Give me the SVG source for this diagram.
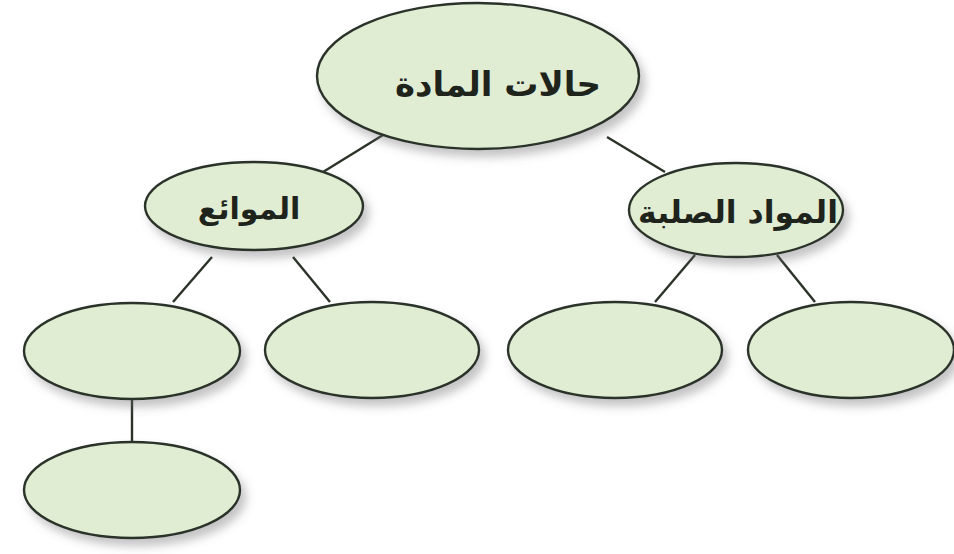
<svg xmlns="http://www.w3.org/2000/svg" width="954" height="554" viewBox="0 0 954 554">
<defs>
<filter id="sh" x="-20%" y="-20%" width="150%" height="160%">
<feDropShadow dx="5" dy="7" stdDeviation="5" flood-color="#6a6a70" flood-opacity="0.4"/>
</filter>
<style>
.n{fill:#e0edd2;stroke:#2b3329;stroke-width:2.4;filter:url(#sh)}
.c{stroke:#2b3329;stroke-width:2.4;fill:none}
.t{font-family:"DejaVu Sans",sans-serif;font-weight:bold;fill:#1e231c;text-anchor:middle;dominant-baseline:central}
</style>
</defs>
<rect width="954" height="554" fill="#ffffff"/>
<g id="connectors">
<line class="c" x1="383" y1="135" x2="323" y2="172"/>
<line class="c" x1="607" y1="137" x2="665" y2="172"/>
<line class="c" x1="212" y1="257" x2="173" y2="302"/>
<line class="c" x1="293" y1="257" x2="330" y2="302"/>
<line class="c" x1="695" y1="255" x2="655" y2="302"/>
<line class="c" x1="777" y1="255" x2="815" y2="302"/>
<line class="c" x1="132" y1="398" x2="132" y2="443"/>
</g>
<g id="n-root">
<ellipse class="n" cx="478" cy="76" rx="161" ry="73"/>
<text class="t" x="498" y="84" font-size="34" direction="rtl">حالات المادة</text>
</g>
<g id="n-liquids">
<ellipse class="n" cx="254" cy="206" rx="109" ry="44"/>
<text class="t" x="249" y="208" font-size="30" direction="rtl">الموائع</text>
</g>
<g id="n-solids">
<ellipse class="n" cx="736" cy="210" rx="107" ry="47"/>
<text class="t" x="738" y="212" font-size="31.5" direction="rtl">المواد الصلبة</text>
</g>
<g id="n-b1">
<ellipse class="n" cx="132" cy="351" rx="108" ry="48"/>
</g>
<g id="n-b2">
<ellipse class="n" cx="372" cy="350" rx="107" ry="48"/>
</g>
<g id="n-b3">
<ellipse class="n" cx="615" cy="350" rx="107" ry="48"/>
</g>
<g id="n-b4">
<ellipse class="n" cx="851" cy="350" rx="103" ry="48"/>
</g>
<g id="n-b5">
<ellipse class="n" cx="132" cy="490" rx="108" ry="48"/>
</g>
</svg>
